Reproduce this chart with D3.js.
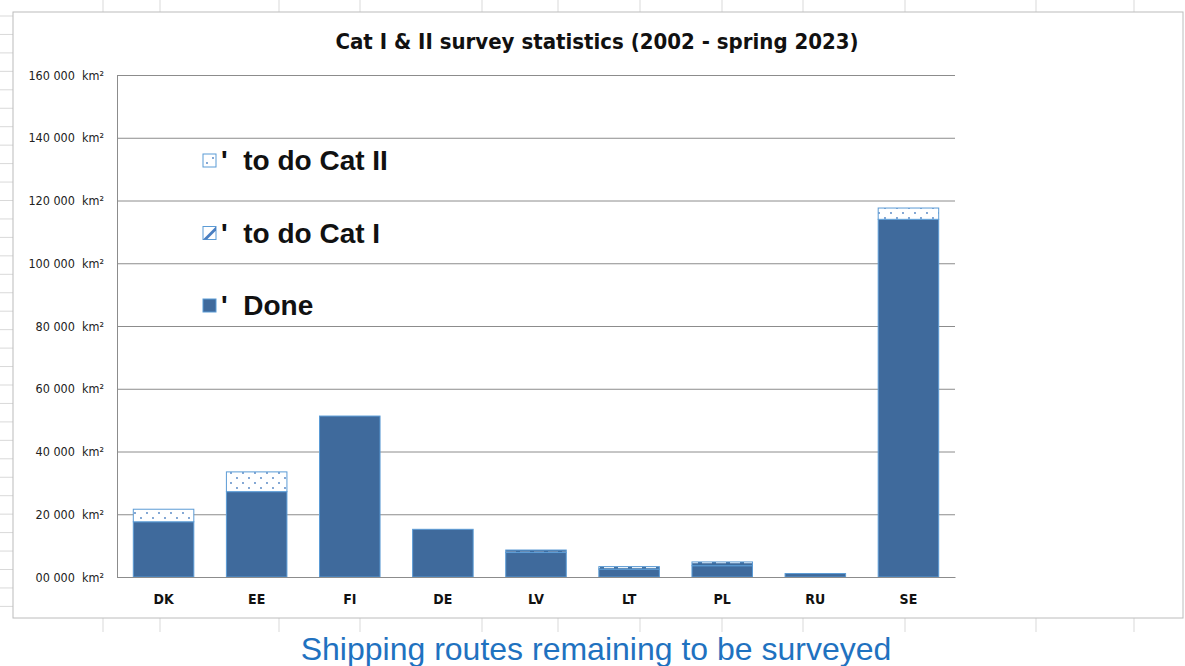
<!DOCTYPE html>
<meta charset="utf-8">
<title>Cat I & II survey statistics</title>
<style>
    body {
        margin: 0;
        background: #fff;
    }
    svg {
        display: block;
    }
    .calibri {
        font-family: "Liberation Sans Narrow", "DejaVu Sans Condensed", "Roboto", sans-serif;
    }
</style>
<body>
<script src="https://cdnjs.cloudflare.com/ajax/libs/d3/7.8.5/d3.min.js"></script>
<script>
    var categories = ["DK", "EE", "FI", "DE", "LV", "LT", "PL", "RU", "SE"];
    var done = [17600, 27200, 51300, 15200, 7800, 2500, 3600, 1100, 114000];
    var todoCatI = [0, 0, 0, 0, 800, 800, 1200, 0, 0];
    var todoCatII = [4000, 6300, 0, 0, 0, 0, 0, 0, 3600];
    var yTicks = [0, 20000, 40000, 60000, 80000, 100000, 120000, 140000, 160000];
    var legendItems = ["' to do Cat II", "' to do Cat I", "' Done"];

    var W = 1185, H = 666;
    var plotL = 117, plotR = 955, plotT = 75, plotB = 577;

    var svg = d3.select("body").append("svg")
        .attr("width", W)
        .attr("height", H);

    var defs = svg.append("defs");

    // dotted pattern (to do Cat II)
    var dots = defs.append("pattern")
        .attr("id", "dots")
        .attr("patternUnits", "userSpaceOnUse")
        .attr("width", 12).attr("height", 10);
    dots.append("rect").attr("width", 12).attr("height", 10).attr("fill", "#fff");
    dots.append("circle").attr("cx", 3).attr("cy", 3).attr("r", 0.9).attr("fill", "#4a7fc1");
    dots.append("circle").attr("cx", 9).attr("cy", 8).attr("r", 0.9).attr("fill", "#4a7fc1");

    // dashed pattern (to do Cat I)
    var dash = defs.append("pattern")
        .attr("id", "dash")
        .attr("patternUnits", "userSpaceOnUse")
        .attr("width", 14).attr("height", 5);
    dash.append("rect").attr("width", 14).attr("height", 5).attr("fill", "#3f6d9f");
    dash.append("line").attr("x1", 2).attr("x2", 12).attr("y1", 2.5).attr("y2", 2.5)
        .attr("stroke", "#fff").attr("stroke-width", 1.4);

    // spreadsheet cell lines behind the chart
    var colLines = [103, 160, 279, 360, 482, 558, 640, 722, 803, 905, 1036, 1134];
    svg.selectAll("line.col")
        .data(colLines)
        .enter()
        .append("line")
        .attr("x1", function (d) { return d; })
        .attr("x2", function (d) { return d; })
        .attr("y1", 0).attr("y2", H - 34)
        .attr("stroke", "#d9d9d9");
    var rowLines = d3.range(16, 615, 18.45);
    svg.selectAll("line.row")
        .data(rowLines)
        .enter()
        .append("line")
        .attr("x1", 0).attr("x2", 13)
        .attr("y1", function (d) { return d; })
        .attr("y2", function (d) { return d; })
        .attr("stroke", "#d9d9d9");

    // chart frame
    svg.append("rect")
        .attr("x", 13).attr("y", 12)
        .attr("width", 1170).attr("height", 606)
        .attr("fill", "#fff")
        .attr("stroke", "#bcbcbc");

    svg.append("text")
        .attr("class", "calibri")
        .attr("x", 597).attr("y", 49)
        .attr("text-anchor", "middle")
        .attr("font-size", 22)
        .attr("font-weight", "bold")
        .attr("fill", "#111")
        .text("Cat I & II survey statistics (2002 - spring 2023)");

    var x = d3.scaleBand()
        .domain(categories)
        .range([plotL, plotR])
        .paddingInner(0.35)
        .paddingOuter(0.175);

    var y = d3.scaleLinear()
        .domain([0, 160000])
        .range([plotB, plotT]);

    function fmt(v) {
        var s = String(v).padStart(5, "0");
        return s.slice(0, s.length - 3) + " " + s.slice(-3) + "  km²";
    }

    var yAxis = svg.append("g")
        .attr("class", "calibri")
        .attr("transform", "translate(" + plotL + ",0)")
        .call(d3.axisLeft(y).tickValues(yTicks).tickFormat(fmt)
            .tickSize(-(plotR - plotL)).tickPadding(13));
    yAxis.select(".domain").attr("stroke", "#8c8c8c");
    yAxis.selectAll(".tick line").attr("stroke", "#8c8c8c");
    yAxis.selectAll(".tick text")
        .attr("font-size", 12.5)
        .attr("fill", "#222")
        .style("white-space", "pre");

    var rows = categories.map(function (c, i) {
        return {cat: c, done: done[i], catI: todoCatI[i], catII: todoCatII[i]};
    });
    var series = d3.stack().keys(["done", "catI", "catII"])(rows);
    var fills = {done: "#3f6a9c", catI: "url(#dash)", catII: "url(#dots)"};

    svg.selectAll("g.series")
        .data(series)
        .enter()
        .append("g")
        .attr("fill", function (s) { return fills[s.key]; })
        .selectAll("rect")
        .data(function (s) { return s.filter(function (d) { return d[1] > d[0]; }); })
        .enter()
        .append("rect")
        .attr("x", function (d) { return x(d.data.cat); })
        .attr("width", x.bandwidth())
        .attr("y", function (d) { return y(d[1]); })
        .attr("height", function (d) { return y(d[0]) - y(d[1]); })
        .attr("stroke", "#5b9bd5")
        .attr("stroke-width", 1);

    var xAxis = svg.append("g")
        .attr("class", "calibri")
        .attr("transform", "translate(0," + plotB + ")")
        .call(d3.axisBottom(x).tickSize(0).tickPadding(17));
    xAxis.select(".domain").attr("stroke", "#8c8c8c");
    xAxis.selectAll(".tick text")
        .attr("font-size", 14)
        .attr("font-weight", "bold")
        .attr("fill", "#111");

    // legend
    var legend = svg.append("g");
    var legendFills = ["url(#dots)", "#ffffff", "#3f6a9c"];
    var ly = d3.scalePoint().domain(legendItems).range([160, 305]);
    legendItems.forEach(function (t, i) {
        legend.append("rect")
            .attr("x", 203).attr("y", ly(t) - 6)
            .attr("width", 13).attr("height", 13)
            .attr("fill", legendFills[i])
            .attr("stroke", "#5b9bd5");
        if (i === 1) {
            legend.append("path")
                .attr("d", "M" + 203 + "," + (ly(t) + 7) + "l13,-13v4l-9,9z")
                .attr("fill", "#4a7fc1");
        }
        legend.append("text")
            .attr("x", 221).attr("y", ly(t) + 10)
            .attr("font-family", "Liberation Sans, Arial, sans-serif")
            .attr("font-weight", "bold")
            .attr("font-size", 28)
            .attr("fill", "#111")
            .style("white-space", "pre")
            .text(t.replace("' ", "'  "));
    });

    svg.append("text")
        .attr("x", 596).attr("y", 660)
        .attr("text-anchor", "middle")
        .attr("font-family", "Liberation Sans, Arial, sans-serif")
        .attr("font-size", 32)
        .attr("fill", "#1f72c0")
        .text("Shipping routes remaining to be surveyed");
</script>
